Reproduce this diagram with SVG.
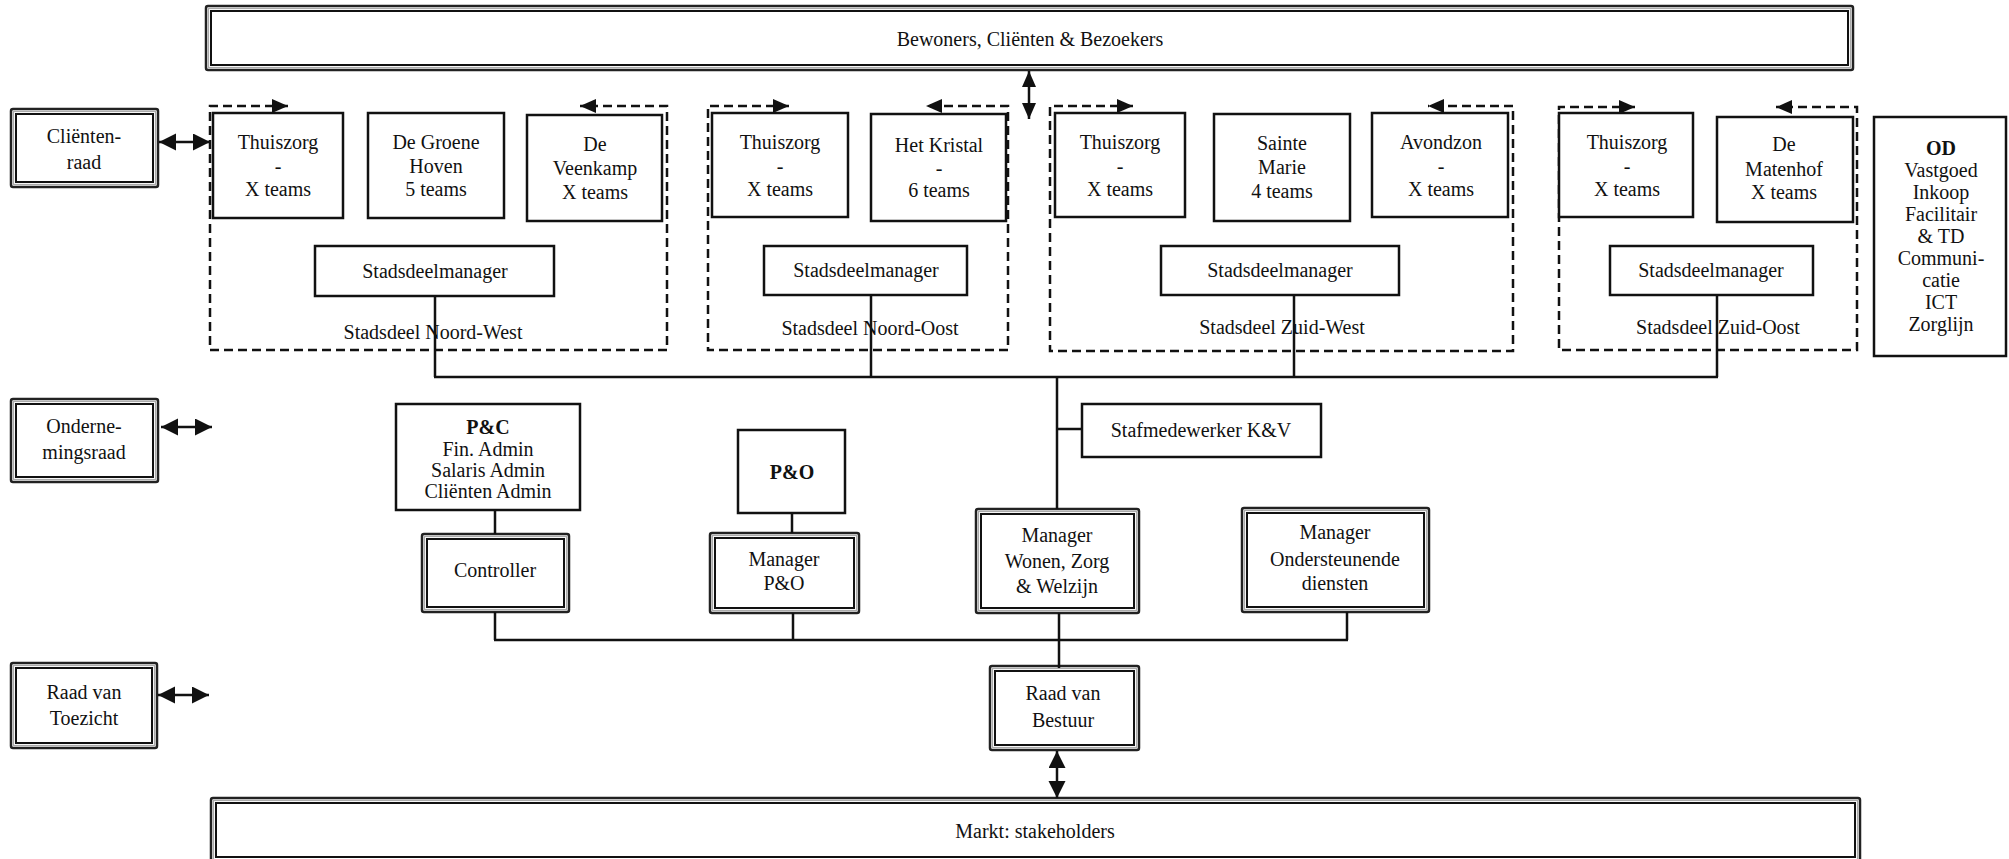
<svg xmlns="http://www.w3.org/2000/svg" width="2009" height="859" viewBox="0 0 2009 859">
  <style>
    .box { fill: #fff; stroke: #111; stroke-width: 2.5; }
    .dbl-o { fill: #fff; stroke: #222; stroke-width: 2.5; }
    .dbl-m { fill: none; stroke: #aaa; stroke-width: 1.2; }
    .dbl-i { fill: none; stroke: #111; stroke-width: 2; }
    .grp { fill: none; stroke: #111; stroke-width: 2.5; stroke-dasharray: 9 5; }
    .ln { fill: none; stroke: #111; stroke-width: 2.5; }
    text { font-family: "Liberation Serif", "Times New Roman", serif; font-size: 20px; fill: #111; text-anchor: middle; }
    .b { font-weight: bold; }
  </style>
  <defs>
    <!-- small head for the dashed district outlines -->
    <marker id="headS" markerUnits="userSpaceOnUse" markerWidth="17" markerHeight="14" refX="16" refY="7" orient="auto-start-reverse">
      <path d="M0,0 L16,7 L0,14 z" fill="#111"/>
    </marker>
    <!-- large head for the council and market arrows -->
    <marker id="headL" markerUnits="userSpaceOnUse" markerWidth="18" markerHeight="18" refX="17" refY="8.5" orient="auto-start-reverse">
      <path d="M0,0 L17,8.5 L0,17 z" fill="#111"/>
    </marker>
  </defs>

  <rect width="2009" height="859" fill="#fff"/>

  <!-- district outlines -->
  <g id="stadsdeel-noord-west">
    <path class="grp" d="M288,106 H210 V350 H667 V106 H580" marker-start="url(#headS)" marker-end="url(#headS)"/>
    <text x="433" y="339">Stadsdeel Noord-West</text>
  </g>
  <g id="stadsdeel-noord-oost">
    <path class="grp" d="M789,106 H708 V350 H1008 V106 H926" marker-start="url(#headS)" marker-end="url(#headS)"/>
    <text x="870" y="335">Stadsdeel Noord-Oost</text>
  </g>
  <g id="stadsdeel-zuid-west">
    <path class="grp" d="M1133,106 H1050 V351 H1513 V106 H1428" marker-start="url(#headS)" marker-end="url(#headS)"/>
    <text x="1282" y="334">Stadsdeel Zuid-West</text>
  </g>
  <g id="stadsdeel-zuid-oost">
    <path class="grp" d="M1635,107 H1559 V350 H1857 V107 H1776" marker-start="url(#headS)" marker-end="url(#headS)"/>
    <text x="1718" y="334">Stadsdeel Zuid-Oost</text>
  </g>

  <!-- top and bottom bands -->
  <g id="bewoners">
    <rect class="dbl-o" x="206" y="6" width="1647" height="64" rx="2"/>
    <rect class="dbl-m" x="208.5" y="8.5" width="1642" height="59"/>
    <rect class="dbl-i" x="211" y="11" width="1637" height="54"/>
    <text x="1030" y="46">Bewoners, Cliënten &amp; Bezoekers</text>
  </g>
  <g id="markt">
    <rect class="dbl-o" x="211" y="798" width="1649" height="66" rx="2"/>
    <rect class="dbl-m" x="213.5" y="800.5" width="1644" height="61"/>
    <rect class="dbl-i" x="216" y="803" width="1639" height="54"/>
    <text x="1035" y="838">Markt: stakeholders</text>
  </g>

  <!-- councils on the left -->
  <g id="clientenraad">
    <rect class="dbl-o" x="11" y="109" width="147" height="78" rx="2"/>
    <rect class="dbl-m" x="13.5" y="111.5" width="142" height="73"/>
    <rect class="dbl-i" x="16" y="114" width="137" height="68"/>
    <text x="84" y="143">Cliënten-</text>
    <text x="84" y="169">raad</text>
  </g>
  <g id="ondernemingsraad">
    <rect class="dbl-o" x="11" y="399" width="147" height="83" rx="2"/>
    <rect class="dbl-m" x="13.5" y="401.5" width="142" height="78"/>
    <rect class="dbl-i" x="16" y="404" width="137" height="73"/>
    <text x="84" y="433">Onderne-</text>
    <text x="84" y="459">mingsraad</text>
  </g>
  <g id="raad-van-toezicht">
    <rect class="dbl-o" x="11" y="663" width="146" height="85" rx="2"/>
    <rect class="dbl-m" x="13.5" y="665.5" width="141" height="80"/>
    <rect class="dbl-i" x="16" y="668" width="136" height="75"/>
    <text x="84" y="699">Raad van</text>
    <text x="84" y="725">Toezicht</text>
  </g>

  <!-- locations -->
  <g id="thuiszorg-nw">
    <rect class="box" x="213" y="113" width="130" height="105"/>
    <text x="278" y="149">Thuiszorg</text>
    <text x="278" y="173">-</text>
    <text x="278" y="196">X teams</text>
  </g>
  <g id="de-groene-hoven">
    <rect class="box" x="368" y="113" width="136" height="105"/>
    <text x="436" y="149">De Groene</text>
    <text x="436" y="173">Hoven</text>
    <text x="436" y="196">5 teams</text>
  </g>
  <g id="de-veenkamp">
    <rect class="box" x="527" y="115" width="135" height="106"/>
    <text x="595" y="151">De</text>
    <text x="595" y="175">Veenkamp</text>
    <text x="595" y="199">X teams</text>
  </g>
  <g id="thuiszorg-no">
    <rect class="box" x="712" y="113" width="136" height="104"/>
    <text x="780" y="149">Thuiszorg</text>
    <text x="780" y="173">-</text>
    <text x="780" y="196">X teams</text>
  </g>
  <g id="het-kristal">
    <rect class="box" x="871" y="114" width="135" height="107"/>
    <text x="939" y="152">Het Kristal</text>
    <text x="939" y="175">-</text>
    <text x="939" y="197">6 teams</text>
  </g>
  <g id="thuiszorg-zw">
    <rect class="box" x="1055" y="113" width="130" height="104"/>
    <text x="1120" y="149">Thuiszorg</text>
    <text x="1120" y="173">-</text>
    <text x="1120" y="196">X teams</text>
  </g>
  <g id="sainte-marie">
    <rect class="box" x="1214" y="114" width="136" height="107"/>
    <text x="1282" y="150">Sainte</text>
    <text x="1282" y="174">Marie</text>
    <text x="1282" y="198">4 teams</text>
  </g>
  <g id="avondzon">
    <rect class="box" x="1372" y="113" width="136" height="104"/>
    <text x="1441" y="149">Avondzon</text>
    <text x="1441" y="173">-</text>
    <text x="1441" y="196">X teams</text>
  </g>
  <g id="thuiszorg-zo">
    <rect class="box" x="1559" y="113" width="134" height="104"/>
    <text x="1627" y="149">Thuiszorg</text>
    <text x="1627" y="173">-</text>
    <text x="1627" y="196">X teams</text>
  </g>
  <g id="de-matenhof">
    <rect class="box" x="1717" y="117" width="136" height="105"/>
    <text x="1784" y="151">De</text>
    <text x="1784" y="176">Matenhof</text>
    <text x="1784" y="199">X teams</text>
  </g>
  <g id="od">
    <rect class="box" x="1874" y="117" width="132" height="239"/>
    <text class="b" x="1941" y="155">OD</text>
    <text x="1941" y="177">Vastgoed</text>
    <text x="1941" y="199">Inkoop</text>
    <text x="1941" y="221">Facilitair</text>
    <text x="1941" y="243">&amp; TD</text>
    <text x="1941" y="265">Communi-</text>
    <text x="1941" y="287">catie</text>
    <text x="1941" y="309">ICT</text>
    <text x="1941" y="331">Zorglijn</text>
  </g>

  <!-- district managers -->
  <g id="sdm-noord-west">
    <rect class="box" x="315" y="246" width="239" height="50"/>
    <text x="435" y="278">Stadsdeelmanager</text>
  </g>
  <g id="sdm-noord-oost">
    <rect class="box" x="764" y="246" width="203" height="49"/>
    <text x="866" y="277">Stadsdeelmanager</text>
  </g>
  <g id="sdm-zuid-west">
    <rect class="box" x="1161" y="246" width="238" height="49"/>
    <text x="1280" y="277">Stadsdeelmanager</text>
  </g>
  <g id="sdm-zuid-oost">
    <rect class="box" x="1610" y="246" width="203" height="49"/>
    <text x="1711" y="277">Stadsdeelmanager</text>
  </g>

  <!-- staff and management -->
  <g id="stafmedewerker">
    <rect class="box" x="1082" y="404" width="239" height="53"/>
    <text x="1201" y="437">Stafmedewerker K&amp;V</text>
  </g>
  <g id="pc">
    <rect class="box" x="396" y="404" width="184" height="106"/>
    <text class="b" x="488" y="434">P&amp;C</text>
    <text x="488" y="456">Fin. Admin</text>
    <text x="488" y="477">Salaris Admin</text>
    <text x="488" y="498">Cliënten Admin</text>
  </g>
  <g id="po">
    <rect class="box" x="738" y="430" width="107" height="83"/>
    <text class="b" x="792" y="479">P&amp;O</text>
  </g>
  <g id="controller">
    <rect class="dbl-o" x="422" y="534" width="147" height="78" rx="2"/>
    <rect class="dbl-m" x="424.5" y="536.5" width="142" height="73"/>
    <rect class="dbl-i" x="427" y="539" width="137" height="68"/>
    <text x="495" y="577">Controller</text>
  </g>
  <g id="manager-po">
    <rect class="dbl-o" x="710" y="533" width="149" height="80" rx="2"/>
    <rect class="dbl-m" x="712.5" y="535.5" width="144" height="75"/>
    <rect class="dbl-i" x="715" y="538" width="139" height="70"/>
    <text x="784" y="566">Manager</text>
    <text x="784" y="590">P&amp;O</text>
  </g>
  <g id="manager-wzw">
    <rect class="dbl-o" x="976" y="509" width="163" height="104" rx="2"/>
    <rect class="dbl-m" x="978.5" y="511.5" width="158" height="99"/>
    <rect class="dbl-i" x="981" y="514" width="153" height="94"/>
    <text x="1057" y="542">Manager</text>
    <text x="1057" y="568">Wonen, Zorg</text>
    <text x="1057" y="593">&amp; Welzijn</text>
  </g>
  <g id="manager-od">
    <rect class="dbl-o" x="1242" y="508" width="187" height="104" rx="2"/>
    <rect class="dbl-m" x="1244.5" y="510.5" width="182" height="99"/>
    <rect class="dbl-i" x="1247" y="513" width="177" height="94"/>
    <text x="1335" y="539">Manager</text>
    <text x="1335" y="566">Ondersteunende</text>
    <text x="1335" y="590">diensten</text>
  </g>
  <g id="raad-van-bestuur">
    <rect class="dbl-o" x="990" y="666" width="149" height="84" rx="2"/>
    <rect class="dbl-m" x="992.5" y="668.5" width="144" height="79"/>
    <rect class="dbl-i" x="995" y="671" width="139" height="74"/>
    <text x="1063" y="700">Raad van</text>
    <text x="1063" y="727">Bestuur</text>
  </g>

  <!-- connectors -->
  <g id="connectors">
    <!-- district managers to the bus -->
    <path class="ln" d="M435,296 V377 M871,295 V377 M1294,295 V377 M1717,295 V377 M434,377 H1718"/>
    <!-- bus down to manager Wonen, Zorg & Welzijn with staff branch -->
    <path class="ln" d="M1057,377 V509 M1057,429 H1082"/>
    <!-- staff units to their managers -->
    <path class="ln" d="M495,510 V534 M792,513 V533"/>
    <!-- managers to the board -->
    <path class="ln" d="M495,612 V640 M793,613 V640 M1059,613 V640 M1347,612 V640 M494,640 H1348 M1059,640 V668"/>
    <!-- two-way arrows -->
    <path class="ln" d="M159,142 H210" marker-start="url(#headL)" marker-end="url(#headL)"/>
    <path class="ln" d="M161,427 H212" marker-start="url(#headL)" marker-end="url(#headL)"/>
    <path class="ln" d="M158,695 H209" marker-start="url(#headL)" marker-end="url(#headL)"/>
    <path class="ln" d="M1029,71 V119" marker-start="url(#headS)" marker-end="url(#headS)"/>
    <path class="ln" d="M1057,751 V798" marker-start="url(#headL)" marker-end="url(#headL)"/>
  </g>
</svg>
